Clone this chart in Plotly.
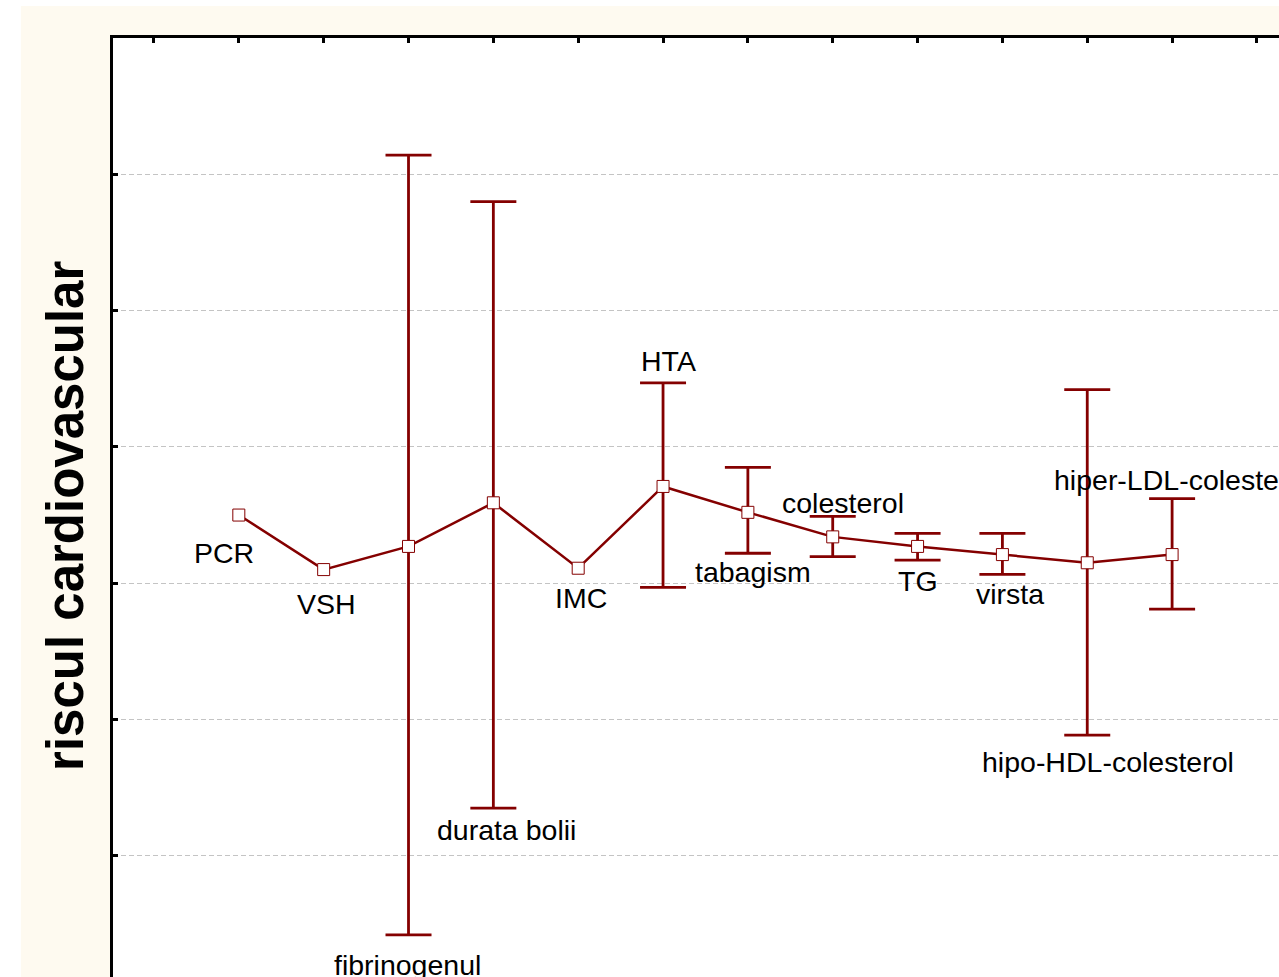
import plotly.graph_objects as go

# ---- data ----
categories = ["PCR", "VSH", "fibrinogenul", "durata bolii", "IMC", "HTA",
              "tabagism", "colesterol", "TG", "virsta",
              "hipo-HDL-colesterol", "hiper-LDL-colesterol"]
x_index = [1, 2, 3, 4, 5, 6, 7, 8, 9, 10, 11, 12]
mean_values = [0.50, 0.10, 0.27, 0.59, 0.11, 0.71, 0.52, 0.34, 0.27, 0.21, 0.15, 0.21]
upper_values = [None, None, 3.14, 2.80, None, 1.47, 0.85, 0.49, 0.365, 0.365, 1.42, 0.62]
lower_values = [None, None, -2.58, -1.65, None, -0.03, 0.22, 0.195, 0.17, 0.065, -1.115, -0.19]
y_tick_values = [-2, -1, 0, 1, 2, 3, 4]
x_tick_values = [0, 1, 2, 3, 4, 5, 6, 7, 8, 9, 10, 11, 12, 13]

# ---- label placement (style only: anchor and pixel offsets) ----
label_anchor = ["mean", "mean", "lower", "lower", "mean", "upper",
                "lower", "upper", "lower", "lower", "lower", "upper"]
label_dx = [-15, 3, -1, 13, 3, 5, 5, 10, 0, 8, 21, -120]
label_dy = [-38, -34, -30, -22, -30, 22, -19, 13, -21, -20, -27, 19]
label_xanchor = ["center"] * 11 + ["left"]

RED = "#840000"
CREAM = "#FEFAF0"
FONT = "Liberation Sans, Arial, sans-serif"

fig = go.Figure()

# error bars
eb_x, eb_y, eb_plus, eb_minus = [], [], [], []
for xi, m, u, l in zip(x_index, mean_values, upper_values, lower_values):
    if u is not None and l is not None:
        eb_x.append(xi)
        eb_y.append(m)
        eb_plus.append(u - m)
        eb_minus.append(m - l)

fig.add_trace(go.Scatter(
    x=eb_x, y=eb_y, mode="markers",
    marker=dict(size=1, opacity=0),
    error_y=dict(type="data", symmetric=False, array=eb_plus, arrayminus=eb_minus,
                 color=RED, thickness=2.8, width=23),
    hoverinfo="skip", showlegend=False,
))

# mean line with markers
fig.add_trace(go.Scatter(
    x=x_index, y=mean_values, mode="lines+markers",
    line=dict(color=RED, width=2.5),
    marker=dict(symbol="square", size=12, color="white", line=dict(color=RED, width=1)),
    showlegend=False,
))

# category labels
for i, name in enumerate(categories):
    if label_anchor[i] == "upper" and upper_values[i] is not None:
        ya = upper_values[i]
    elif label_anchor[i] == "lower" and lower_values[i] is not None:
        ya = lower_values[i]
    else:
        ya = mean_values[i]
    fig.add_annotation(
        x=x_index[i], y=ya, text=name, showarrow=False,
        xanchor=label_xanchor[i], yanchor="middle",
        xshift=label_dx[i], yshift=label_dy[i],
        font=dict(family=FONT, size=28.5, color="black"),
    )

# y axis title as rotated annotation
fig.add_annotation(
    xref="paper", yref="paper", x=-0.0403, y=0.491,
    text="<b>riscul cardiovascular</b>", textangle=-90, showarrow=False,
    xanchor="center", yanchor="middle",
    font=dict(family=FONT, size=51, color="black"),
)

# cream frame behind the plot area, white plot area on top of it
fig.add_shape(type="rect", xref="paper", yref="paper",
              x0=-0.079, x1=1.02, y0=-0.02, y1=1.034,
              fillcolor=CREAM, line=dict(width=0), layer="below")
fig.add_shape(type="rect", xref="paper", yref="paper",
              x0=0, x1=1.02, y0=-0.02, y1=1,
              fillcolor="white", line=dict(width=0), layer="below")

fig.update_xaxes(
    range=[-0.483, 13.26], side="top",
    showline=True, linecolor="black", linewidth=3,
    ticks="inside", ticklen=5, tickwidth=2.5, tickcolor="black",
    tickvals=x_tick_values, showticklabels=False,
    showgrid=False, zeroline=False,
)
fig.update_yaxes(
    range=[-2.889, 4.0],
    showline=True, linecolor="black", linewidth=3,
    ticks="inside", ticklen=5, tickwidth=2.5, tickcolor="black",
    tickvals=y_tick_values, showticklabels=False,
    showgrid=True, gridcolor="#c4c4c4", gridwidth=1, griddash="5px,3px",
    zeroline=False,
)

fig.update_layout(
    width=1279, height=977,
    margin=dict(l=113, r=0, t=38, b=0),
    paper_bgcolor="white", plot_bgcolor="white",
    font=dict(family=FONT),
)

fig.write_html("out.html",
               config={"displayModeBar": False},
               post_script="document.body.style.margin='0px';document.body.style.overflow='hidden';")
